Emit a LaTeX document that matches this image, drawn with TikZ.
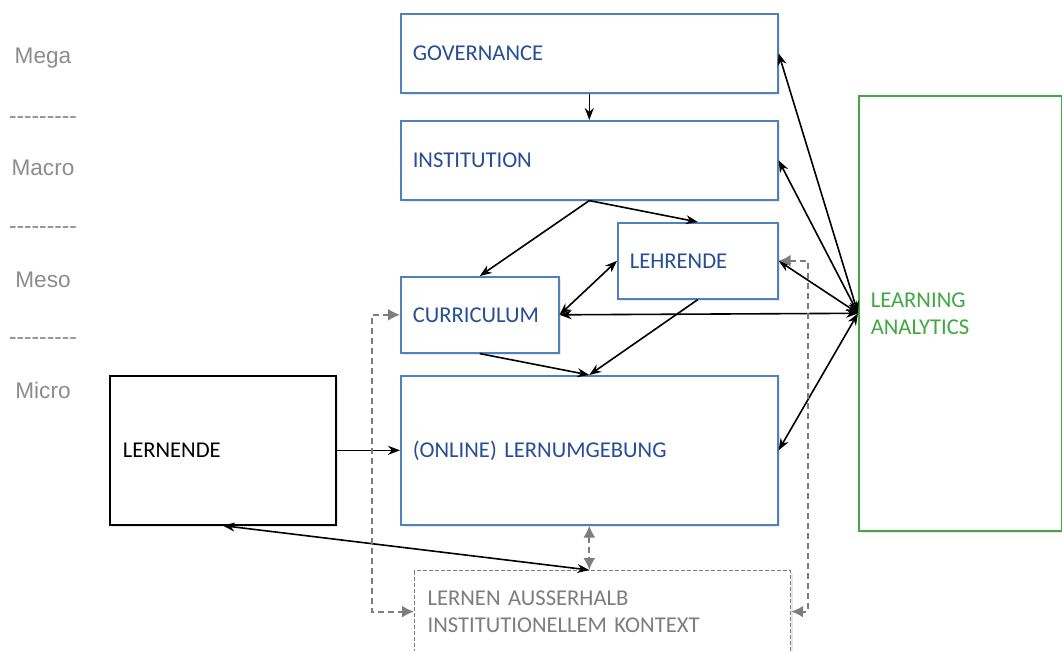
\documentclass[tikz,border=0pt]{standalone}
\usepackage{fontspec}
\setmainfont{Carlito}
\newfontfamily\levelfont{Liberation Sans}
\usepackage{tikz}
\usetikzlibrary{arrows.meta, positioning, calc, shadows}
\usepackage{xcolor}
\definecolor{boxblue}{RGB}{79, 129, 189}
\definecolor{textblue}{RGB}{38, 78, 148}
\definecolor{lagreen}{RGB}{64, 168, 64}
\definecolor{levelgray}{RGB}{140, 140, 140}
\definecolor{outgray}{RGB}{125, 125, 125}

\tikzset{
  lvlbox/.style={draw=boxblue, line width=0.8pt, fill=white, text=textblue, align=left,
    anchor=north west, inner xsep=6pt, font=\fontsize{11.3}{13.5}\selectfont,
    drop shadow={opacity=0.18, shadow xshift=1pt, shadow yshift=-1pt}},
  levellabel/.style={text=levelgray, font=\levelfont\fontsize{11.3}{13.5}\selectfont},
  link/.style={line width=0.8pt, -{Stealth[length=6pt, width=4.5pt]}},
  duallink/.style={line width=0.8pt, {Stealth[length=6pt, width=4.5pt]}-{Stealth[length=6pt, width=4.5pt]}},
  graylink/.style={outgray, line width=0.9pt, dashed, dash pattern=on 3pt off 2pt,
    {Latex[length=6pt, width=6pt]}-{Latex[length=6pt, width=6pt]}}
}

\begin{document}
\begin{tikzpicture}[x=0.5pt, y=-0.5pt]
  \useasboundingbox (0,0) rectangle (1062,650);

  % Levels on the left
  \node[levellabel] (mega) at (43,58) {Mega};
  \node[levellabel] (sep1) at (43,120) {-{}-{}-{}-{}-{}-{}-{}-{}-};
  \node[levellabel] (macro) at (43,168) {Macro};
  \node[levellabel] (sep2) at (43,230) {-{}-{}-{}-{}-{}-{}-{}-{}-};
  \node[levellabel] (meso) at (43,280) {Meso};
  \node[levellabel] (sep3) at (43,341) {-{}-{}-{}-{}-{}-{}-{}-{}-};
  \node[levellabel] (micro) at (43,390) {Micro};

  % Boxes
  \node[lvlbox, minimum width=188.5pt, minimum height=39.5pt, text width=176.5pt] (gov) at (400,13) {GOVERNANCE};
  \node[lvlbox, minimum width=188.5pt, minimum height=39.5pt, text width=176.5pt] (inst) at (400,120) {INSTITUTION};
  \node[lvlbox, minimum width=80pt, minimum height=38pt, text width=68pt] (lehr) at (617,222) {LEHRENDE};
  \node[lvlbox, minimum width=79pt, minimum height=38pt, text width=67pt] (curr) at (400,276) {CURRICULUM};
  \node[lvlbox, minimum width=188.5pt, minimum height=74.5pt, text width=176.5pt] (lern) at (400,375) {(ONLINE) LERNUMGEBUNG};
  \node[lvlbox, draw=black, text=black, inner xsep=6.5pt, minimum width=113pt, minimum height=74.5pt, text width=100pt] (lernende) at (109,375) {LERNENDE};
  \node[lvlbox, draw=lagreen, text=lagreen, drop shadow={opacity=0}, minimum width=101.5pt, minimum height=217.5pt, text width=89.5pt] (la) at (858,95) {LEARNING\\ANALYTICS};
  \node[lvlbox, draw=outgray, text=outgray, dashed, dash pattern=on 2pt off 1pt, line width=0.6pt, drop shadow={opacity=0},
    minimum width=188pt, minimum height=41pt, text width=175pt] (ausser) at (414,570) {LERNEN AUSSERHALB\\INSTITUTIONELLEM KONTEXT};

  % Arrows between the levels
  \draw[link] (gov.south) -- (inst.north);
  \draw[link] (inst.south) -- (curr.north);
  \draw[link] (inst.south) -- (lehr.north);
  \draw[duallink] (lehr.west) -- (curr.east);
  \draw[link] (curr.south) -- (lern.north);
  \draw[link] (lehr.south) -- (lern.north);
  \draw[link] (lernende.east) -- (lern.west);
  \draw[duallink] (lernende.south) -- (lern.south |- ausser.north);

  % Learning analytics
  \draw[duallink] (la.west) -- (gov.east);
  \draw[duallink] (la.west) -- (inst.east);
  \draw[duallink] (la.west) -- (lehr.east);
  \draw[duallink] (la.west) -- (curr.east);
  \draw[duallink] (la.west) -- (lern.east);

  % Learning outside the institution
  \draw[graylink] (lern.south) -- (lern.south |- ausser.north);
  \draw[graylink] (curr.west) -- ++(-28,0) |- (ausser.west);
  \draw[graylink] (lehr.east) -- ++(29,0) |- (ausser.east);
\end{tikzpicture}
\end{document}
